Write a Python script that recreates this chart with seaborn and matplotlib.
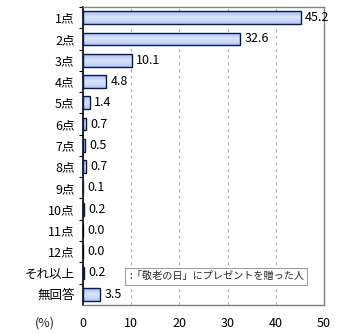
import numpy as np
import pandas as pd
import matplotlib
matplotlib.use("Agg")
import matplotlib.pyplot as plt
from matplotlib.colors import LinearSegmentedColormap
import seaborn as sns

categories = ["1点", "2点", "3点", "4点", "5点", "6点", "7点", "8点", "9点",
              "10点", "11点", "12点", "それ以上", "無回答"]
values = [45.2, 32.6, 10.1, 4.8, 1.4, 0.7, 0.5, 0.7, 0.1, 0.2, 0.0, 0.0, 0.2, 3.5]
xticks = [0, 10, 20, 30, 40, 50]
legend_label = ":「敬老の日」にプレゼントを贈った人"

sns.set_theme(style="white")
plt.rcParams["font.family"] = ["Noto Sans CJK JP", "DejaVu Sans"]

df = pd.DataFrame({"category": categories, "value": values})

fig = plt.figure(figsize=(3.4, 3.35), dpi=100)
ax = fig.add_axes([0.244, 0.09, 0.709, 0.889])

sns.barplot(data=df, y="category", x="value", orient="h", ax=ax,
            color="#c3d2f5", edgecolor="#0a1a4a", linewidth=1.0, width=0.6)

# vertical gradient fill clipped to each bar
cmap = LinearSegmentedColormap.from_list(
    "barfill", ["#a3b9ef", "#c3d2f6", "#dbe4fb", "#cad7f7", "#b3c5f2"])
grad = np.linspace(0, 1, 64).reshape(-1, 1)
for p in ax.patches:
    x0, y0 = p.get_x(), p.get_y()
    w, h = p.get_width(), p.get_height()
    if w <= 0:
        continue
    im = ax.imshow(grad, cmap=cmap, aspect="auto", origin="upper",
                   extent=[x0, x0 + w, y0 + h, y0], zorder=p.get_zorder() - 0.1,
                   interpolation="bilinear")
    im.set_clip_path(p)
    p.set_facecolor("none")
    p.set_zorder(3)

ax.set_xlim(0, 50)
ax.set_ylim(len(categories) - 0.5, -0.5)
ax.set_xticks(xticks)
ax.set_xticklabels([str(t) for t in xticks], fontsize=9)
ax.set_yticks(range(len(categories)))
ax.set_yticklabels(categories, fontsize=9)
ax.set_xlabel("")
ax.set_ylabel("")

# boundary ticks on the category axis
ax.set_yticks(np.arange(-0.5, len(categories) - 0.5, 1), minor=True)
ax.tick_params(axis="y", which="major", length=0, pad=6, colors="black")
ax.tick_params(axis="y", which="minor", length=3, width=0.8, color="black", left=True)
ax.tick_params(axis="x", length=0, pad=9, colors="black")

for x in xticks[1:-1]:
    ax.axvline(x, color="#b0b0b0", linestyle=(0, (3, 3)), linewidth=0.8, zorder=0)

for s in ["top", "right", "bottom"]:
    ax.spines[s].set_color("#808080")
    ax.spines[s].set_linewidth(1.0)
ax.spines["left"].set_color("black")
ax.spines["left"].set_linewidth(1.2)

for i, v in enumerate(values):
    ax.text(v + 0.9, i, f"{v:.1f}", va="center", ha="left", fontsize=9, color="black")

fig.text(45 / 340, 1 - 323 / 335, "(%)", fontsize=9, va="center", ha="center")

ax.text(9.5, 12.15, legend_label, fontsize=7.3, va="center", ha="left",
        bbox=dict(boxstyle="square,pad=0.35", facecolor="white",
                  edgecolor="#a0a0a0", linewidth=0.8), zorder=5)

fig.savefig("out.png", dpi=100)
